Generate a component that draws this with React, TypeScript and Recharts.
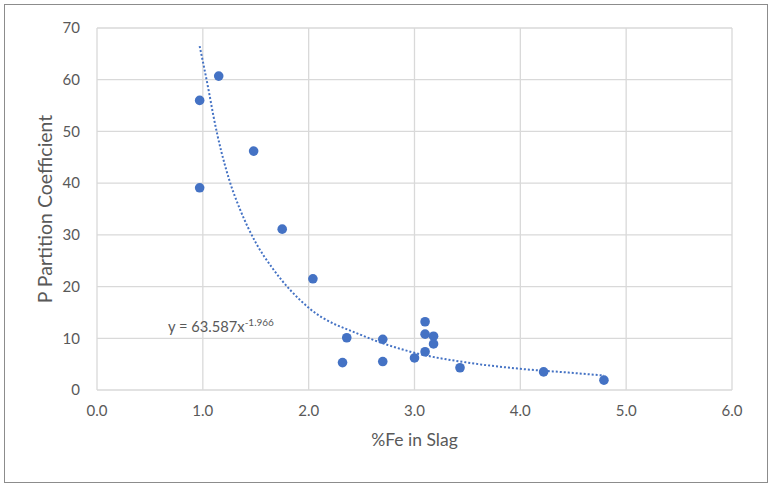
import {
  ComposedChart,
  Scatter,
  Line,
  XAxis,
  YAxis,
  ZAxis,
  CartesianGrid,
} from "recharts";

// measured points: %Fe in slag vs P partition coefficient
const feInSlag = [
  0.97, 0.97, 1.15, 1.48, 1.75, 2.04, 2.32, 2.36, 2.7, 2.7, 3.0, 3.1, 3.1, 3.1,
  3.18, 3.18, 3.43, 4.22, 4.79,
];
const pPartition = [
  56.0, 39.1, 60.7, 46.2, 31.1, 21.5, 5.3, 10.1, 9.8, 5.5, 6.2, 13.2, 10.8, 7.4,
  10.4, 8.9, 4.3, 3.5, 1.9,
];

// power trendline
const trendX = [0.97, 1.06, 1.1, 1.25, 1.35, 1.5, 1.66, 2.0, 2.5, 3.0, 3.5, 4.0, 4.5, 4.79];
const trendY = [66.5, 57.4, 53.0, 40.6, 35.0, 28.5, 23.5, 15.9, 10.6, 7.2, 5.3, 4.1, 3.3, 2.8];

const xTicks = [0, 1, 2, 3, 4, 5, 6];
const yTicks = [0, 10, 20, 30, 40, 50, 60, 70];

const points = feInSlag.map((x, i) => ({ x, y: pPartition[i] }));
const trend = trendX.map((x, i) => ({ x, y: trendY[i] }));

const BLUE = "#4472c4";
const TEXT = "#595959";
const FONT = "Lato, 'Open Sans', sans-serif";

const Dot = (props: any) => {
  const { cx, cy } = props;
  if (cx == null || cy == null) return null;
  return <circle cx={cx} cy={cy} r={4.8} fill={BLUE} />;
};

export default function App() {
  return (
    <div
      style={{
        position: "absolute",
        left: 0,
        top: 0,
        width: 772,
        height: 486,
        background: "#fff",
        fontFamily: FONT,
      }}
    >
      <div
        style={{
          position: "absolute",
          left: 4,
          top: 4,
          width: 762,
          height: 477,
          border: "1px solid #8c8c8c",
        }}
      />
      <div style={{ position: "absolute", left: 0, top: 0 }}>
        <ComposedChart
          width={772}
          height={486}
          margin={{ top: 28, right: 40, bottom: 0, left: 0 }}
        >
          <CartesianGrid stroke="#d9d9d9" strokeWidth={1.3} />
          <XAxis
            type="number"
            dataKey="x"
            domain={[0, 6]}
            ticks={xTicks}
            tickFormatter={(v: number) => v.toFixed(1)}
            height={96}
            tickSize={0}
            tickMargin={15}
            axisLine={false}
            tick={{ fill: TEXT, fontSize: 15, fontFamily: FONT }}
            label={{
              value: "%Fe in Slag",
              position: "center",
              dy: 2,
              fill: TEXT,
              fontSize: 17.5,
              fontFamily: FONT,
            }}
          />
          <YAxis
            type="number"
            dataKey="y"
            domain={[0, 70]}
            ticks={yTicks}
            width={97}
            tickSize={0}
            tickMargin={17}
            axisLine={false}
            tick={{ fill: TEXT, fontSize: 15, fontFamily: FONT }}
            label={{
              value: "P Partition Coefficient",
              angle: -90,
              position: "center",
              dx: -3,
              fill: TEXT,
              fontSize: 19.5,
              fontFamily: FONT,
            }}
          />
          <ZAxis range={[80, 80]} />
          <Line
            data={trend}
            dataKey="y"
            type="monotone"
            stroke={BLUE}
            strokeWidth={2}
            strokeDasharray="2 2"
            dot={false}
            activeDot={false}
            isAnimationActive={false}
          />
          <Scatter
            data={points}
            dataKey="y"
            shape={Dot}
            isAnimationActive={false}
          />
        </ComposedChart>
      </div>
      <div
        style={{
          position: "absolute",
          left: 168,
          top: 316,
          fontSize: 14.7,
          color: TEXT,
          whiteSpace: "nowrap",
        }}
      >
        y = 63.587x<sup style={{ fontSize: 10 }}>-1.966</sup>
      </div>
    </div>
  );
}
